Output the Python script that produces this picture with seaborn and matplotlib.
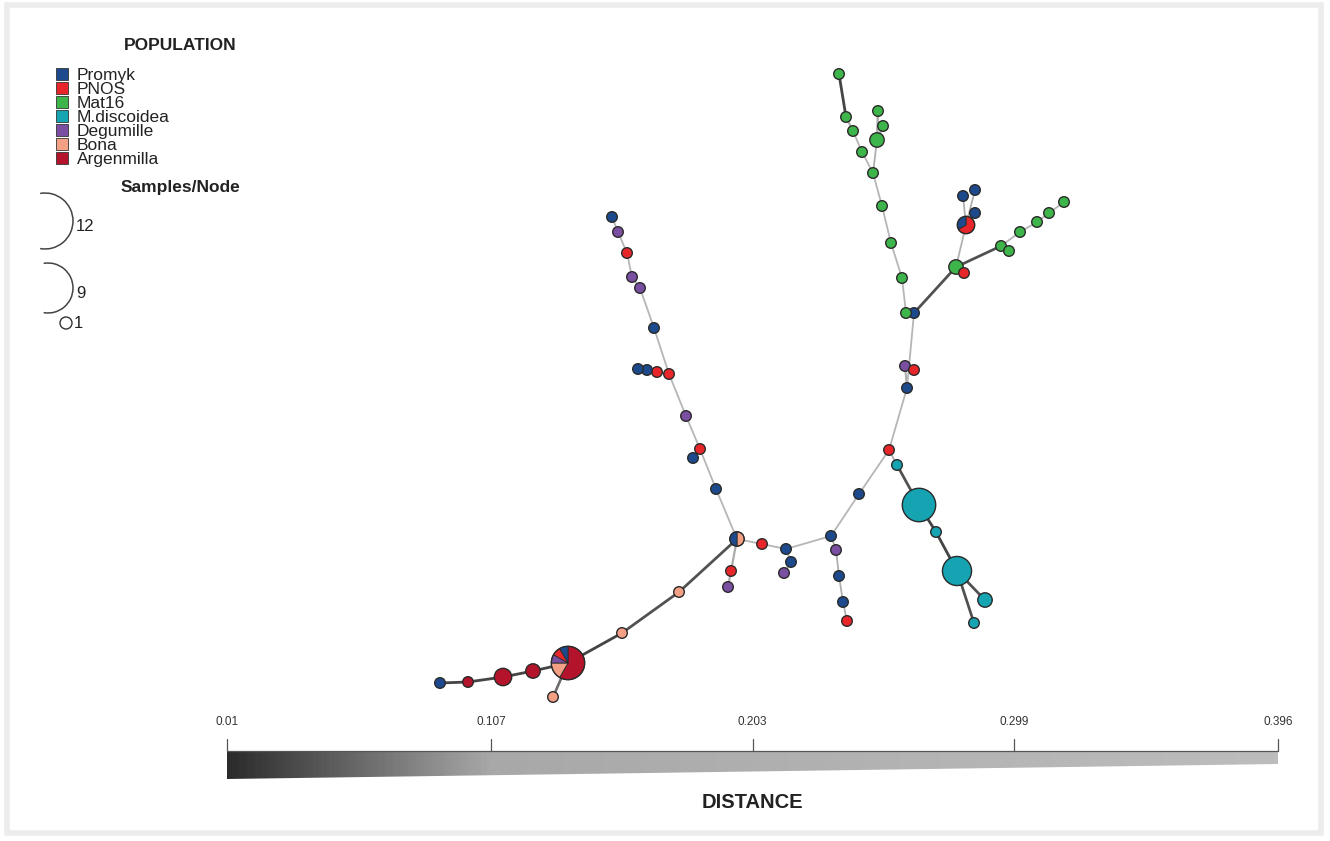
import numpy as np
import pandas as pd
import seaborn as sns
import matplotlib.pyplot as plt
from matplotlib.patches import Wedge, Rectangle, Polygon, Arc, Circle
from matplotlib.colors import LinearSegmentedColormap, Normalize

# =========================
# DATA
# =========================
populations = ['Promyk', 'PNOS', 'Mat16', 'M.discoidea', 'Degumille', 'Bona', 'Argenmilla']
pop_colors = ['#1d4a8c', '#e8262a', '#3db54a', '#16a3b2', '#7a4ea0', '#f4a084', '#b3142b']

# network layout (pixel coordinates of the original picture)
node_x = [440, 468, 503, 533, 568, 553, 622, 679, 737, 731, 728, 762, 786, 791, 784,
          831, 836, 839, 843, 847, 859, 889, 897, 919, 936, 957, 985, 974,
          907, 905, 914, 914, 906, 902, 891, 882, 873, 862, 853, 846, 839, 877, 878, 883,
          956, 964, 966, 963, 975, 975, 1001, 1009, 1020, 1037, 1049, 1064,
          716, 700, 693, 686, 669, 657, 647, 638, 654, 640, 632, 627, 618, 612]
node_y = [683, 682, 677, 671, 663, 697, 633, 592, 539, 571, 587, 544, 549, 562, 573,
          536, 550, 576, 602, 621, 494, 450, 465, 505, 532, 571, 600, 623,
          388, 366, 370, 313, 313, 278, 243, 206, 173, 152, 131, 117, 74, 140, 111, 126,
          267, 273, 225, 196, 190, 213, 246, 251, 232, 222, 213, 202,
          489, 449, 458, 416, 374, 372, 370, 369, 328, 288, 277, 253, 232, 217]
node_pop = ['Promyk', 'Argenmilla', 'Argenmilla', 'Argenmilla', 'mix', 'Bona', 'Bona', 'Bona', 'mix',
            'PNOS', 'Degumille', 'PNOS', 'Promyk', 'Promyk', 'Degumille',
            'Promyk', 'Degumille', 'Promyk', 'Promyk', 'PNOS', 'Promyk', 'PNOS',
            'M.discoidea', 'M.discoidea', 'M.discoidea', 'M.discoidea', 'M.discoidea', 'M.discoidea',
            'Promyk', 'Degumille', 'PNOS', 'Promyk', 'Mat16', 'Mat16', 'Mat16', 'Mat16', 'Mat16',
            'Mat16', 'Mat16', 'Mat16', 'Mat16', 'Mat16', 'Mat16', 'Mat16',
            'Mat16', 'PNOS', 'mix', 'Promyk', 'Promyk', 'Promyk',
            'Mat16', 'Mat16', 'Mat16', 'Mat16', 'Mat16', 'Mat16',
            'Promyk', 'PNOS', 'Promyk', 'Degumille', 'PNOS', 'PNOS', 'Promyk', 'Promyk',
            'Promyk', 'Degumille', 'Degumille', 'PNOS', 'Degumille', 'Promyk']
node_count = [1, 1, 3, 2, 12, 1, 1, 1, 2, 1, 1, 1, 1, 1, 1,
              1, 1, 1, 1, 1, 1, 1, 1, 12, 1, 9, 2, 1,
              1, 1, 1, 1, 1, 1, 1, 1, 1, 1, 1, 1, 1, 2, 1, 1,
              2, 1, 3, 1, 1, 1, 1, 1, 1, 1, 1, 1,
              1, 1, 1, 1, 1, 1, 1, 1, 1, 1, 1, 1, 1, 1]

# mixed nodes: clockwise from 12 o'clock
mix_nodes = [4, 8, 46]
mix_pops = [['Argenmilla', 'Bona', 'Degumille', 'PNOS', 'Promyk'],
            ['Bona', 'Promyk'],
            ['PNOS', 'Promyk']]
mix_counts = [[7, 2, 1, 1, 1], [1, 1], [2, 1]]

edge_from = [0, 1, 2, 3, 4, 4, 6, 7, 8, 9, 8, 11, 12, 13, 12, 15, 16, 17, 18,
             15, 20, 21, 22, 23, 24, 25, 25, 21, 28, 29, 28, 31, 32, 33, 34, 35, 36,
             37, 38, 39, 36, 41, 41, 31, 44, 44, 46, 46, 46, 44, 50, 50, 52, 53, 54,
             8, 56, 57, 57, 59, 60, 61, 62, 60, 64, 65, 66, 67, 68]
edge_to = [1, 2, 3, 4, 5, 6, 7, 8, 9, 10, 11, 12, 13, 14, 15, 16, 17, 18, 19,
           20, 21, 22, 23, 24, 25, 26, 27, 28, 29, 30, 31, 32, 33, 34, 35, 36, 37,
           38, 39, 40, 41, 42, 43, 44, 45, 46, 47, 48, 49, 50, 51, 52, 53, 54, 55,
           56, 57, 58, 59, 60, 61, 62, 63, 64, 65, 66, 67, 68, 69]
edge_dist = [0.03, 0.03, 0.03, 0.03, 0.06, 0.03, 0.04, 0.04, 0.14, 0.14, 0.3, 0.3, 0.16, 0.16,
             0.3, 0.22, 0.22, 0.22, 0.22,
             0.3, 0.3, 0.2, 0.04, 0.03, 0.03, 0.04, 0.04, 0.3, 0.16, 0.06, 0.3, 0.2, 0.3,
             0.3, 0.3, 0.3, 0.3, 0.3, 0.16, 0.03, 0.2, 0.12, 0.12, 0.04, 0.04, 0.25,
             0.2, 0.2, 0.2, 0.04, 0.2, 0.3, 0.3, 0.3, 0.3,
             0.3, 0.3, 0.2, 0.3, 0.3, 0.3, 0.3, 0.3, 0.3, 0.3, 0.3, 0.3, 0.3, 0.3]

dist_ticks = [0.01, 0.107, 0.203, 0.299, 0.396]
size_legend = [12, 9, 1]

# =========================
# STYLE
# =========================
sns.set_theme(style='white')
plt.rcParams['font.family'] = ['Liberation Sans', 'DejaVu Sans']

W, H = 1330, 841
fig = plt.figure(figsize=(13.3, 8.41), dpi=100)
ax = fig.add_axes([0, 0, 1, 1])
ax.set_xlim(0, W)
ax.set_ylim(H, 0)
ax.axis('off')

color_of = dict(zip(populations, pop_colors))
dist_cmap = LinearSegmentedColormap.from_list(
    'dist', [(0, '#2c2c2c'), (0.25, '#a8a8a8'), (1, '#bdbdbd')])
dist_norm = Normalize(dist_ticks[0], dist_ticks[-1])


def node_radius(n):
    return 0.67 + 4.63 * np.sqrt(n)


# frame
ax.add_patch(Rectangle((7, 5), 1314, 828, fill=False, edgecolor='#ececec', lw=4.0, zorder=0))

# =========================
# EDGES
# =========================
for a, b, d in zip(edge_from, edge_to, edge_dist):
    t = dist_norm(d)
    ax.plot([node_x[a], node_x[b]], [node_y[a], node_y[b]],
            color=dist_cmap(t), lw=max(1.3, 2.1 - 1.6 * t), solid_capstyle='round', zorder=1)

# =========================
# NODES
# =========================
df = pd.DataFrame({'x': node_x, 'y': node_y, 'pop': node_pop, 'n': node_count})
df['area'] = (1.44 * node_radius(df['n'])) ** 2
single = df[df['pop'] != 'mix']
sns.scatterplot(data=single, x='x', y='y', hue='pop', palette=color_of,
                size='area', sizes=(single['area'].min(), single['area'].max()),
                size_norm=(single['area'].min(), single['area'].max()),
                edgecolor='#2a2a2a', linewidth=1.0, legend=False, ax=ax, zorder=3)

for idx, pops, cnts in zip(mix_nodes, mix_pops, mix_counts):
    r = node_radius(sum(cnts))
    start = -90
    for p, c in zip(pops, cnts):
        span = 360 * c / sum(cnts)
        ax.add_patch(Wedge((node_x[idx], node_y[idx]), r, start, start + span,
                           facecolor=color_of[p], edgecolor='#2a2a2a', lw=0.6, zorder=3))
        start += span
    ax.add_patch(Circle((node_x[idx], node_y[idx]), r, fill=False,
                        edgecolor='#2a2a2a', lw=1.0, zorder=4))

# =========================
# LEGEND
# =========================
ax.text(180, 45, 'POPULATION', fontsize=12.5, fontweight='bold', color='#222',
        ha='center', va='center')
for i, (p, c) in enumerate(zip(populations, pop_colors)):
    yy = 74 + 14 * i
    ax.add_patch(Rectangle((56, yy - 6), 12, 12, facecolor=c, edgecolor='#333', lw=0.6))
    ax.text(77, yy + 1, p, fontsize=12.5, color='#222', ha='left', va='center')

ax.text(180, 187, 'Samples/Node', fontsize=12.5, fontweight='bold', color='#222',
        ha='center', va='center')
leg_r = [28, 25]
leg_y = [221, 288, 323]
for n, yy in zip(size_legend, leg_y):
    if n > 1:
        r = leg_r[size_legend.index(n)]
        ax.add_patch(Arc((73 - r, yy), 2 * r, 2 * r, theta1=-100, theta2=100,
                         color='#444', lw=1.1))
        ax.text(76, yy + 5, str(n), fontsize=12, color='#222', ha='left', va='center')
    else:
        ax.add_patch(Circle((66, yy), 6, fill=False, edgecolor='#333', lw=1.0))
        ax.text(74, yy + 1, str(n), fontsize=12, color='#222', ha='left', va='center')

# =========================
# DISTANCE SCALE
# =========================
x0, x1 = 227, 1278
grad = np.linspace(dist_ticks[0], dist_ticks[-1], 400).reshape(1, -1)
im = ax.imshow(grad, cmap=dist_cmap, norm=dist_norm, extent=(x0, x1, 779, 751),
               aspect='auto', zorder=1)
clip = Polygon([(x0, 751), (x1, 751), (x1, 764), (x0, 779)], closed=True,
               transform=ax.transData, facecolor='none', edgecolor='none')
ax.add_patch(clip)
im.set_clip_path(clip)
ax.set_xlim(0, W)
ax.set_ylim(H, 0)

ax.plot([x0, x1], [751, 751], color='#555', lw=0.9, zorder=2)
for v in dist_ticks:
    xv = x0 + (x1 - x0) * (v - dist_ticks[0]) / (dist_ticks[-1] - dist_ticks[0])
    ax.plot([xv, xv], [739, 751], color='#555', lw=0.9, zorder=2)
    ax.text(xv, 722, f'{v:g}', fontsize=8.5, color='#333', ha='center', va='center')

ax.text((x0 + x1) / 2, 802, 'DISTANCE', fontsize=14.5, fontweight='bold', color='#222',
        ha='center', va='center')

fig.savefig('out.png', dpi=100, facecolor='white')
